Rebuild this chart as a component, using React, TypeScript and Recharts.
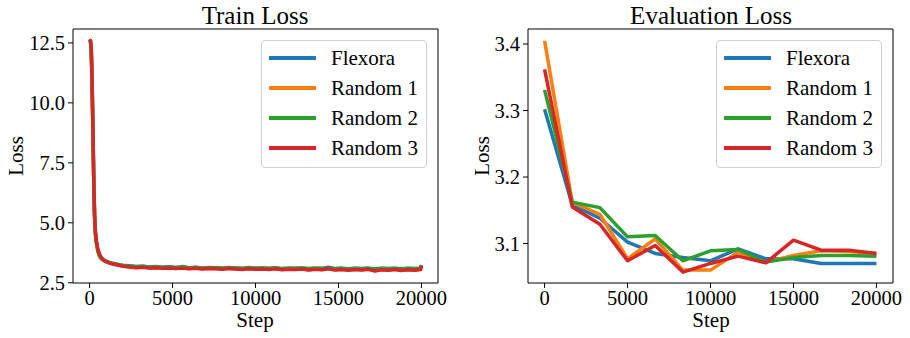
import React from 'react'
import { Legend, Line, LineChart, XAxis, YAxis } from 'recharts'

const seriesNames = ['Flexora', 'Random 1', 'Random 2', 'Random 3']
const seriesColors = ['#1f77b4', '#ff7f0e', '#2ca02c', '#d62728']
const stepTicks = [0, 5000, 10000, 15000, 20000]

const trainSteps = [
  0, 50, 100, 150, 200, 250, 300, 350, 400, 500, 600, 700, 800, 1000, 1200, 1400, 1600, 1800, 2000,
  2400, 2800, 3200, 3600, 4000, 4400, 4800, 5200, 5600, 6000,
  6400, 6800, 7200, 7600, 8000, 8400, 8800, 9200, 9600, 10000,
  10400, 10800, 11200, 11600, 12000, 12400, 12800, 13200, 13600, 14000,
  14400, 14800, 15200, 15600, 16000, 16400, 16800, 17200, 17600, 18000,
  18400, 18800, 19200, 19600, 19950, 20000,
]
const flexoraTrain = [
  12.55, 12.6, 12.2, 10.9, 8.9, 6.8, 5.3, 4.6, 4.25, 3.88, 3.68, 3.56, 3.48, 3.4, 3.35, 3.31, 3.28, 3.25, 3.23,
  3.21, 3.18, 3.19, 3.16, 3.18, 3.15, 3.17, 3.14, 3.16, 3.13,
  3.15, 3.12, 3.14, 3.13, 3.11, 3.14, 3.12, 3.1, 3.13, 3.11,
  3.12, 3.1, 3.13, 3.09, 3.11, 3.1, 3.12, 3.09, 3.11, 3.1,
  3.15, 3.09, 3.11, 3.08, 3.1, 3.09, 3.11, 3.08, 3.1, 3.09,
  3.1, 3.08, 3.1, 3.09, 3.11, 3.24,
]
const random1Train = [
  12.56, 12.6, 12.25, 10.95, 8.95, 6.9, 5.35, 4.62, 4.26, 3.86, 3.66, 3.54, 3.46, 3.38, 3.33, 3.29, 3.26, 3.23, 3.21,
  3.17, 3.14, 3.16, 3.12, 3.14, 3.11, 3.13, 3.1, 3.12, 3.09,
  3.11, 3.08, 3.1, 3.09, 3.07, 3.1, 3.08, 3.06, 3.09, 3.07,
  3.08, 3.06, 3.09, 3.05, 3.07, 3.06, 3.08, 3.04, 3.07, 3.05,
  3.09, 3.04, 3.06, 3.03, 3.06, 3.04, 3.07, 3.01, 3.05, 3.03,
  3.06, 3.02, 3.05, 3.03, 3.06, 3.21,
]
const random2Train = [
  12.54, 12.58, 12.15, 10.8, 8.8, 6.7, 5.2, 4.5, 4.18, 3.8, 3.6, 3.5, 3.44, 3.38, 3.34, 3.3, 3.27, 3.24, 3.22,
  3.2, 3.17, 3.19, 3.15, 3.17, 3.14, 3.16, 3.13, 3.18, 3.12,
  3.14, 3.11, 3.13, 3.12, 3.1, 3.13, 3.11, 3.09, 3.14, 3.1,
  3.11, 3.09, 3.12, 3.08, 3.1, 3.09, 3.11, 3.08, 3.1, 3.09,
  3.11, 3.08, 3.1, 3.07, 3.09, 3.08, 3.1, 3.06, 3.09, 3.08,
  3.09, 3.07, 3.09, 3.08, 3.1, 3.22,
]
const random3Train = [
  12.55, 12.6, 12.25, 10.95, 8.95, 6.9, 5.35, 4.65, 4.28, 3.88, 3.67, 3.55, 3.47, 3.38, 3.32, 3.28, 3.25, 3.22, 3.19,
  3.16, 3.13, 3.15, 3.11, 3.13, 3.1, 3.12, 3.09, 3.11, 3.08,
  3.1, 3.07, 3.09, 3.08, 3.06, 3.09, 3.07, 3.05, 3.08, 3.06,
  3.07, 3.05, 3.08, 3.04, 3.06, 3.05, 3.07, 3.03, 3.06, 3.04,
  3.08, 3.03, 3.05, 3.02, 3.05, 3.03, 3.06, 2.99, 3.04, 3.02,
  3.05, 3.01, 3.04, 3.02, 3.05, 3.2,
]

const evalSteps = [0, 1667, 3333, 5000, 6667, 8333, 10000, 11667, 13333, 15000, 16667, 18333, 20000]
const flexoraEval = [3.302, 3.158, 3.138, 3.102, 3.085, 3.079, 3.074, 3.092, 3.077, 3.077, 3.07, 3.07, 3.07]
const random1Eval = [3.405, 3.162, 3.144, 3.077, 3.107, 3.06, 3.06, 3.087, 3.072, 3.082, 3.089, 3.088, 3.085]
const random2Eval = [3.331, 3.162, 3.154, 3.11, 3.112, 3.074, 3.089, 3.091, 3.072, 3.079, 3.082, 3.082, 3.081]
const random3Eval = [3.362, 3.155, 3.129, 3.074, 3.097, 3.057, 3.07, 3.081, 3.071, 3.105, 3.09, 3.09, 3.085]

const trainTicks = [2.5, 5, 7.5, 10, 12.5]
const evalTicks = [3.1, 3.2, 3.3, 3.4]

const FONT = '"Liberation Serif", "Times New Roman", serif'

function buildRows(steps: number[], series: number[][]) {
  return steps.map((step, i) => {
    const row: Record<string, number> = { step }
    seriesNames.forEach((name, s) => {
      row[name] = series[s][i]
    })
    return row
  })
}

const trainData = buildRows(trainSteps, [flexoraTrain, random1Train, random2Train, random3Train])
const evalData = buildRows(evalSteps, [flexoraEval, random1Eval, random2Eval, random3Eval])

function LegendBox() {
  return (
    <div
      style={{
        width: 166,
        height: 128,
        boxSizing: 'border-box',
        border: '1px solid #d0d0d0',
        borderRadius: 4,
        background: 'rgba(255,255,255,0.8)',
        position: 'relative',
        fontFamily: FONT,
        fontSize: 21,
        color: '#000',
      }}
    >
      {seriesNames.map((name, i) => (
        <div key={name} style={{ position: 'absolute', left: 0, top: 16.5 + i * 30.3, width: '100%' }}>
          <div style={{ position: 'absolute', left: 6.5, top: -2, width: 47, height: 4, background: seriesColors[i] }} />
          <div style={{ position: 'absolute', left: 69, top: -13, lineHeight: '26px', whiteSpace: 'nowrap' }}>{name}</div>
        </div>
      ))}
    </div>
  )
}

interface LossChartProps {
  data: Record<string, number>[]
  yDomain: [number, number]
  yTicks: number[]
}

function LossChart({ data, yDomain, yTicks }: LossChartProps) {
  const tickStyle = { fill: '#000', fontSize: 20.5, fontFamily: FONT }
  return (
    <LineChart width={455} height={338} data={data} margin={{ top: 28, right: 16, bottom: 25, left: 13 }}>
      <XAxis
        type="number"
        dataKey="step"
        domain={[-1000, 21000]}
        ticks={stepTicks}
        tick={tickStyle}
        tickSize={5}
        tickMargin={2}
        height={30}
        axisLine={{ stroke: '#000' }}
        tickLine={{ stroke: '#000' }}
        interval={0}
      />
      <XAxis
        xAxisId="top"
        orientation="top"
        type="number"
        dataKey="step"
        domain={[-1000, 21000]}
        height={1}
        tick={false}
        tickLine={false}
        axisLine={{ stroke: '#000' }}
      />
      <YAxis
        type="number"
        domain={yDomain}
        ticks={yTicks}
        tick={tickStyle}
        tickFormatter={(v: number) => v.toFixed(1)}
        tickSize={5}
        tickMargin={3}
        width={60}
        axisLine={{ stroke: '#000' }}
        tickLine={{ stroke: '#000' }}
        interval={0}
      />
      <YAxis
        yAxisId="right"
        orientation="right"
        type="number"
        domain={yDomain}
        width={1}
        tick={false}
        tickLine={false}
        axisLine={{ stroke: '#000' }}
      />
      {seriesNames.map((name, i) => (
        <Line
          key={name}
          type="linear"
          dataKey={name}
          stroke={seriesColors[i]}
          strokeWidth={3.5}
          strokeLinejoin="round"
          dot={false}
          isAnimationActive={false}
        />
      ))}
      <Legend
        layout="vertical"
        align="center"
        verticalAlign="middle"
        wrapperStyle={{ left: 261, top: 40, width: 166, height: 128 }}
        content={() => <LegendBox />}
      />
    </LineChart>
  )
}

export default function App() {
  return (
    <div style={{ position: 'absolute', left: 0, top: 0, width: 910, height: 338, background: '#fff' }}>
      <div style={{ position: 'absolute', left: 0, top: 0 }}>
        <LossChart data={trainData} yDomain={[2.49, 13.08]} yTicks={trainTicks} />
      </div>
      <div style={{ position: 'absolute', left: 455, top: 0 }}>
        <LossChart data={evalData} yDomain={[3.0406, 3.4226]} yTicks={evalTicks} />
      </div>
      <svg width={910} height={338} style={{ position: 'absolute', left: 0, top: 0, pointerEvents: 'none' }}>
        <g fontFamily={FONT} fill="#000">
          <text x={255} y={23.5} fontSize={25} textAnchor="middle">Train Loss</text>
          <text x={711} y={23.5} fontSize={25} textAnchor="middle">Evaluation Loss</text>
          <text x={255} y={327} fontSize={21} textAnchor="middle">Step</text>
          <text x={711} y={327} fontSize={21} textAnchor="middle">Step</text>
          <text x={22.5} y={156} fontSize={21} textAnchor="middle" transform="rotate(-90 22.5 156)">Loss</text>
          <text x={488.5} y={156} fontSize={21} textAnchor="middle" transform="rotate(-90 488.5 156)">Loss</text>
        </g>
      </svg>
    </div>
  )
}
